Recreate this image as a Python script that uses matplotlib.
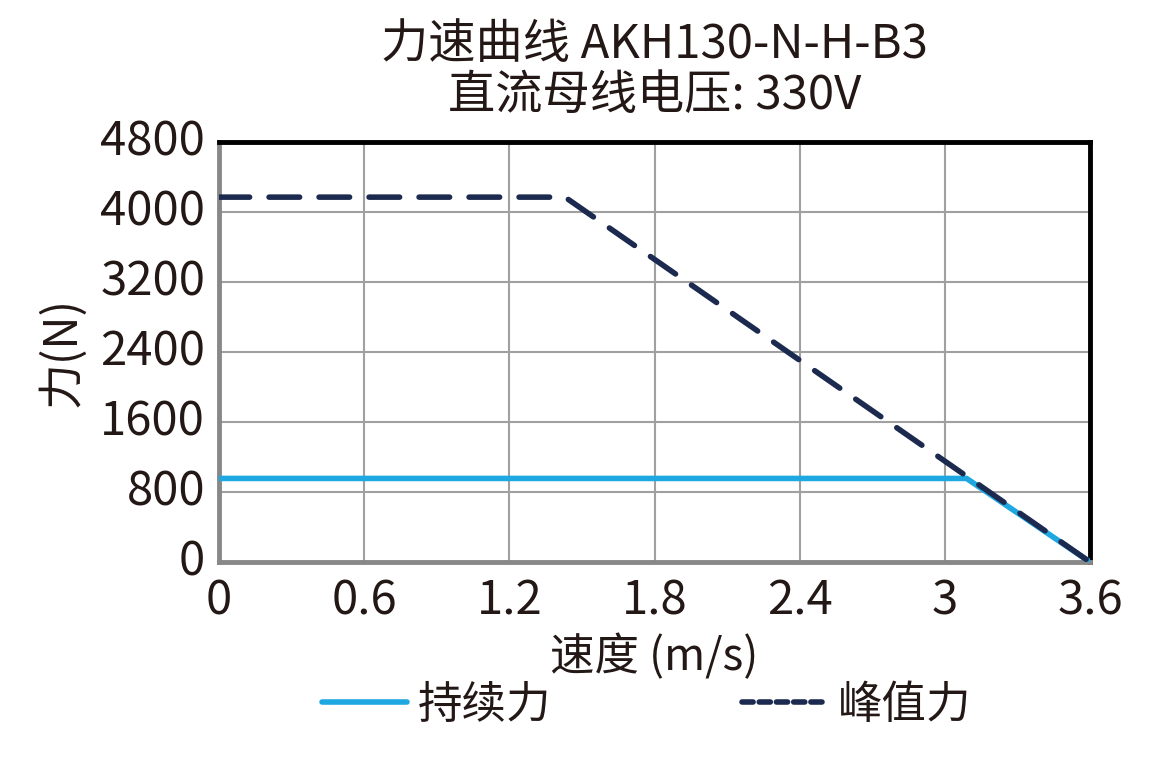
import numpy as np
from matplotlib import pyplot as plt
from matplotlib.lines import Line2D
from matplotlib.transforms import ScaledTranslation

plt.rcParams['font.family'] = ['Noto Sans CJK SC', 'DejaVu Sans']

# Data
cont_speed = [0, 3.09, 3.6]
cont_force = [955, 955, 0]
peak_speed = [0, 1.43, 3.6]
peak_force = [4170, 4170, 0]

x_ticks = [0, 0.6, 1.2, 1.8, 2.4, 3.0, 3.6]
x_labels = ['0', '0.6', '1.2', '1.8', '2.4', '3', '3.6']
y_ticks = [0, 800, 1600, 2400, 3200, 4000, 4800]

text_col = '#231815'
cont_col = '#1ea7e1'
peak_col = '#1b2a4e'

fig = plt.figure(figsize=(11.72, 7.57), dpi=100)
ax = fig.add_axes([0.1869, 0.2576, 0.7431, 0.5548])

ax.plot(cont_speed, cont_force, color=cont_col, lw=4, zorder=3)
ax.plot(peak_speed, peak_force, color=peak_col, lw=4, ls=(0, (5.5, 3.5)),
        dash_capstyle='round', zorder=4)

ax.set_xlim(0, 3.6)
ax.set_ylim(0, 4800)
ax.set_xticks(x_ticks)
ax.set_xticklabels(x_labels)
ax.set_yticks(y_ticks)
ax.tick_params(length=0, labelsize=34, colors=text_col)
ax.tick_params(axis='y', pad=10)
ax.tick_params(axis='x', pad=11)
ax.grid(True, color='#a0a0a0', lw=1.5)

# nudge y tick labels up a little, like the reference
shift = ScaledTranslation(0, 5 / 100, fig.dpi_scale_trans)
for lab in ax.get_yticklabels():
	lab.set_transform(lab.get_transform() + shift)

for side in ['top', 'right']:
	ax.spines[side].set_color('black')
	ax.spines[side].set_linewidth(3.5)
for side in ['left', 'bottom']:
	ax.spines[side].set_color('#888888')
	ax.spines[side].set_linewidth(3.5)

ax.set_xlabel('速度 (m/s)', fontsize=32, color=text_col, labelpad=6)
ax.set_ylabel('力(N)', fontsize=33, color=text_col, labelpad=10)
ax.set_title('力速曲线 AKH130-N-H-B3\n直流母线电压: 330V', fontsize=34,
             color=text_col, linespacing=1.06, pad=24)

# legend handles (legend dashes are shorter than in the plot)
handles = [Line2D([], [], color=cont_col, lw=4, solid_capstyle='round'),
           Line2D([], [], color=peak_col, lw=4, ls=(0, (2, 1.1)),
                  dash_capstyle='round')]
leg = fig.legend(handles, ['持续力', '峰值力'], loc='lower center',
                 bbox_to_anchor=(0.552, -0.014), ncol=2, frameon=False,
                 fontsize=32, handlelength=1.9, handletextpad=0.25,
                 columnspacing=4.3)
for t in leg.get_texts():
	t.set_color(text_col)

fig.savefig('out.png', dpi=100)
